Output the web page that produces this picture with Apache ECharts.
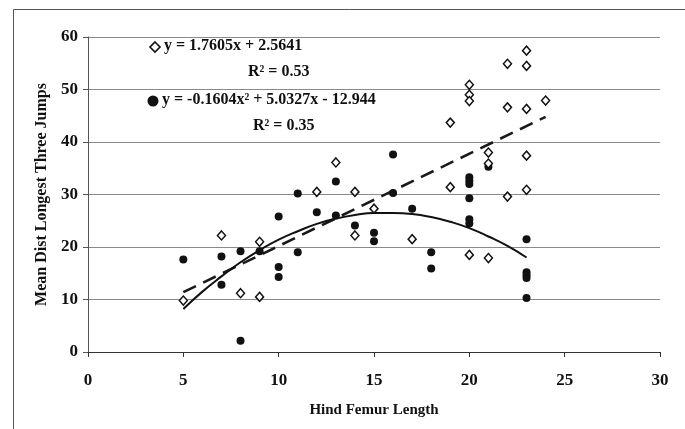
<!DOCTYPE html>
<html>
<head>
<meta charset="utf-8">
<script src="https://cdn.jsdelivr.net/npm/echarts@6/dist/echarts.min.js"></script>
<style>
  html, body { margin: 0; padding: 0; background: #fff; }
  #main { width: 685px; height: 429px; }
</style>
</head>
<body>
<div id="main"></div>
<script>
// open diamonds: [femur length, mean dist]
const diamondPts = [
  [5, 9.8], [7, 22.2], [8, 11.2], [9, 21.0], [9, 10.5], [12, 30.5], [13, 36.1],
  [14, 30.5], [14, 22.2], [15, 27.3], [17, 21.5], [19, 43.7], [19, 31.4],
  [20, 50.9], [20, 49.0], [20, 47.8], [20, 18.5], [21, 38.0], [21, 35.9], [21, 17.9],
  [22, 54.9], [22, 46.6], [22, 29.6], [23, 57.4], [23, 54.5], [23, 46.3],
  [23, 37.4], [23, 30.9], [24, 47.9]
]
// filled circles
const circlePts = [
  [5, 17.6], [7, 18.2], [7, 12.8], [8, 19.2], [8, 2.15], [9, 19.2], [10, 25.8],
  [10, 16.2], [10, 14.3], [11, 30.2], [11, 19.0], [12, 26.6], [13, 32.5], [13, 26.0],
  [14, 24.1], [15, 22.7], [15, 21.1], [16, 37.6], [16, 30.3], [17, 27.3], [18, 19.0],
  [18, 15.9], [20, 33.3], [20, 32.6], [20, 32.0], [20, 29.3], [20, 25.3], [20, 24.5],
  [21, 35.3], [23, 21.5], [23, 15.2], [23, 14.6], [23, 14.1], [23, 10.3]
]
// linear trend end points (dashed)
const linearTrend = [[5, 11.4], [24, 44.8]]
// polynomial trend (solid)
const polyTrend = [
  [5, 8.2], [6, 11.5], [7, 14.4], [8, 17.1], [9, 19.4], [10, 21.4], [11, 23.0],
  [12, 24.4], [13, 25.4], [14, 26.1], [15, 26.5], [16, 26.5], [17, 26.3],
  [18, 25.7], [19, 24.8], [20, 23.6], [21, 22.0], [22, 20.2], [23, 18.0]
]
const xTicks = { min: 0, max: 30, step: 5 }
const yTicks = { min: 0, max: 60, step: 10 }

const font = '"Liberation Serif", "Times New Roman", serif'
const chart = echarts.init(document.getElementById('main'))

chart.setOption({
  animation: false,
  backgroundColor: '#fff',
  grid: { left: 88, right: 25, top: 37, bottom: 77 },
  xAxis: {
    type: 'value',
    min: xTicks.min, max: xTicks.max, interval: xTicks.step,
    name: 'Hind Femur Length',
    nameLocation: 'middle',
    nameGap: 51,
    nameTextStyle: { fontFamily: font, fontWeight: 'bold', fontSize: 15, color: '#111' },
    axisLine: { lineStyle: { color: '#333', width: 1 } },
    axisTick: { show: true, inside: false, length: 5, lineStyle: { color: '#333' } },
    axisLabel: { fontFamily: font, fontWeight: 'bold', fontSize: 17, color: '#111', margin: 20 },
    splitLine: { show: false }
  },
  yAxis: {
    type: 'value',
    min: yTicks.min, max: yTicks.max, interval: yTicks.step,
    name: 'Mean Dist Longest Three Jumps',
    nameLocation: 'middle',
    nameGap: 37,
    nameTextStyle: { fontFamily: font, fontWeight: 'bold', fontSize: 16, color: '#111' },
    axisLine: { show: true, lineStyle: { color: '#555', width: 1 } },
    axisTick: { show: true, inside: false, length: 5, lineStyle: { color: '#555' } },
    axisLabel: { fontFamily: font, fontWeight: 'bold', fontSize: 17, color: '#111', margin: 10 },
    splitLine: { show: true, lineStyle: { color: '#8a8a8a', width: 1 } }
  },
  series: [
    {
      type: 'line',
      data: linearTrend,
      showSymbol: false,
      symbol: 'none',
      lineStyle: { color: '#1a1a1a', width: 2.6, type: [14, 8] },
      z: 3
    },
    {
      type: 'line',
      data: polyTrend,
      smooth: true,
      showSymbol: false,
      symbol: 'none',
      lineStyle: { color: '#111', width: 2 },
      z: 3
    },
    {
      type: 'scatter',
      data: circlePts,
      symbol: 'circle',
      symbolSize: 8,
      itemStyle: { color: '#111', opacity: 1 },
      z: 4
    },
    {
      type: 'scatter',
      data: diamondPts,
      symbol: 'diamond',
      symbolSize: [8, 9],
      itemStyle: { color: '#fff', borderColor: '#111', borderWidth: 1.5, opacity: 1 },
      z: 5
    }
  ],
  graphic: [
    // outer frame
    { type: 'rect', shape: { x: 13.5, y: 9.5, width: 700, height: 460 },
      style: { fill: 'none', stroke: '#555', lineWidth: 1 }, silent: true },
    // legend markers
    { type: 'polygon', shape: { points: [[155, 42], [160, 47], [155, 52], [150, 47]] },
      style: { fill: '#fff', stroke: '#111', lineWidth: 1.6 } },
    { type: 'circle', shape: { cx: 153, cy: 101, r: 5.5 }, style: { fill: '#111' } },
    { type: 'text', left: 164, top: 38,
      style: { text: 'y = 1.7605x + 2.5641', font: 'bold 16px ' + font, fill: '#111' } },
    { type: 'text', left: 248, top: 64,
      style: { text: 'R² = 0.53', font: 'bold 16px ' + font, fill: '#111' } },
    { type: 'text', left: 162, top: 92,
      style: { text: 'y = -0.1604x² + 5.0327x - 12.944', font: 'bold 16px ' + font, fill: '#111' } },
    { type: 'text', left: 253, top: 118,
      style: { text: 'R² = 0.35', font: 'bold 16px ' + font, fill: '#111' } }
  ]
})
</script>
</body>
</html>
